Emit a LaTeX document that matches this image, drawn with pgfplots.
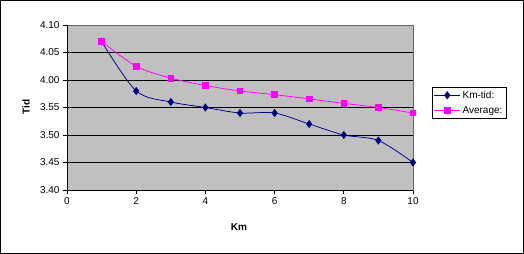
\documentclass[border=0pt]{standalone}
\usepackage{fontspec}
\setmainfont{Liberation Sans}
\usepackage{pgfplots}
\pgfplotsset{compat=1.18}
\definecolor{plotgray}{HTML}{C0C0C0}
\definecolor{navyc}{HTML}{000080}
\definecolor{magc}{HTML}{FF00FF}
\begin{document}
\begin{tikzpicture}
\useasboundingbox (0,0) rectangle (524bp,254bp);
\draw[black, line width=1bp] (0.5bp,0.5bp) rectangle (523.5bp,253.5bp);
\begin{axis}[
  at={(67bp,64bp)}, anchor=south west,
  scale only axis, width=346bp, height=165bp,
  xmin=0, xmax=10, ymin=0, ymax=6,
  xtick={0,2,4,6,8,10}, ytick={0,1,2,3,4,5,6},
  yticklabels={3.40,3.45,3.50,3.55,4.00,4.05,4.10},
  /pgf/number format/assume math mode=true,
  ymajorgrids, grid style={black, line width=0.75bp},
  axis background/.style={fill=plotgray},
  axis line style={draw=gray!80!black, line width=0.75bp},
  tick style={black, line width=0.75bp},
  tick align=outside, major tick length=4bp,
  xtick pos=left, ytick pos=left,
  ticklabel style={font=\fontsize{10bp}{12bp}\selectfont},
  xlabel={\bfseries Km}, ylabel={\bfseries Tid},
  label style={font=\fontsize{10bp}{12bp}\selectfont},
  xlabel style={at={(axis description cs:0.497,-0.224)}, anchor=center},
  ylabel style={at={(axis description cs:-0.1185,0.503)}, anchor=center},
  legend style={at={(axis description cs:1.0549,0.624)}, anchor=north west,
    draw=black, fill=white, line width=0.75bp,
    font=\fontsize{10bp}{12bp}\selectfont, inner sep=1.5bp, row sep=2.5bp},
  legend cell align=left,
  legend image code/.code={\draw[mark repeat=2,mark phase=2] plot coordinates {(0bp,0bp) (13bp,0bp) (26bp,0bp)};},
  after end axis/.code={
    \draw[black, line width=0.75bp] (rel axis cs:0,0) -- (rel axis cs:0,1);
    \draw[black, line width=0.75bp] (rel axis cs:0,0) -- (rel axis cs:1,0);
  },
]
\addplot[navyc, line width=0.75bp, smooth, mark=diamond*, mark size=3.5bp, mark options={fill=navyc, solid}]
  coordinates {(1,5.4) (2,3.6) (3,3.2) (4,3.0) (5,2.8) (6,2.8) (7,2.4) (8,2.0) (9,1.8) (10,1.0)};
\addlegendentry{Km-tid:}
\addplot[magc, line width=0.75bp, smooth, mark=square*, mark size=2.8bp, mark options={fill=magc, solid}]
  coordinates {(1,5.4) (2,4.5) (3,4.067) (4,3.8) (5,3.6) (6,3.467) (7,3.314) (8,3.15) (9,3.0) (10,2.8)};
\addlegendentry{Average:}
\end{axis}
\end{tikzpicture}
\end{document}
